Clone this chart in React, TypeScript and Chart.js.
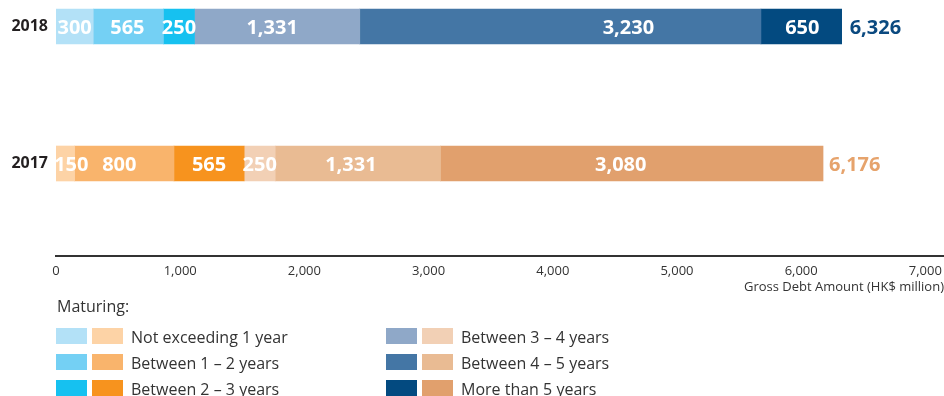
import React, { useEffect, useRef } from "react";
import { Chart, registerables } from "chart.js";

Chart.register(...registerables);

// ---------- data ----------
const YEARS = ["2018", "2017"];
const MATURITY_BUCKETS = [
  "Not exceeding 1 year",
  "Between 1 – 2 years",
  "Between 2 – 3 years",
  "Between 3 – 4 years",
  "Between 4 – 5 years",
  "More than 5 years",
];
const VALUES_2018 = [300, 565, 250, 1331, 3230, 650];
const VALUES_2017 = [150, 800, 565, 250, 1331, 3080];
const TOTALS = [6326, 6176];
const X_TICKS = [0, 1000, 2000, 3000, 4000, 5000, 6000, 7000];
const X_TITLE = "Gross Debt Amount (HK$ million)";
const LEGEND_TITLE = "Maturing:";

// ---------- styles ----------
const COLORS_2018 = ["#b3e1f7", "#74d0f4", "#16c1f0", "#8fa8c8", "#4476a5", "#034a80"];
const COLORS_2017 = ["#fdd3a6", "#f9b46c", "#f7931e", "#f2d0b5", "#e9bb93", "#e1a06d"];
const TOTAL_COLORS = ["#0b4a80", "#e6a36c"];
const FONT = '"Open Sans", "DejaVu Sans", sans-serif';
const TEXT_DARK = "#333333";

// small horizontal nudges (px) for in-bar labels, per year row then bucket
const LABEL_NUDGE = [
  [0, -1, 0, -5, 68, 1],
  [6, -5, 0, 0, -7, -11],
];

const W = 944;
const H = 396;
const CHART_BOTTOM = 256;
const ROW_PX = 137;
const FIRST_ROW_Y = 26.5;

const fmt = (v: number) => v.toLocaleString("en-US");

const labelPlugin = {
  id: "barLabels",
  afterDatasetsDraw(chart: any) {
    const ctx = chart.ctx;
    ctx.save();
    ctx.font = `700 20px ${FONT}`;
    ctx.textBaseline = "alphabetic";
    const rows = [VALUES_2018, VALUES_2017];
    chart.data.datasets.forEach((_ds: any, i: number) => {
      const meta = chart.getDatasetMeta(i);
      meta.data.forEach((el: any, j: number) => {
        const { x, y, base } = el.getProps(["x", "y", "base"], true);
        ctx.fillStyle = "#ffffff";
        ctx.textAlign = "center";
        ctx.fillText(fmt(rows[j][i]), (x + base) / 2 + LABEL_NUDGE[j][i], y + 7.5);
      });
    });
    const lastMeta = chart.getDatasetMeta(chart.data.datasets.length - 1);
    lastMeta.data.forEach((el: any, j: number) => {
      const { x, y } = el.getProps(["x", "y"], true);
      ctx.fillStyle = TOTAL_COLORS[j];
      ctx.textAlign = "left";
      ctx.fillText(fmt(TOTALS[j]), x + (j === 0 ? 8 : 6), y + 7.5);
    });
    ctx.restore();
  },
};

const legendPlugin = {
  id: "customLegend",
  afterDraw(chart: any) {
    const ctx = chart.ctx;
    ctx.save();
    ctx.font = `400 16px ${FONT}`;
    ctx.fillStyle = TEXT_DARK;
    ctx.textAlign = "left";
    ctx.textBaseline = "alphabetic";
    ctx.fillText(LEGEND_TITLE, 57, 311.5);
    const cols = [56, 386];
    const rowTop = [328, 354, 380];
    MATURITY_BUCKETS.forEach((label, i) => {
      const c = Math.floor(i / 3);
      const r = i % 3;
      const x0 = cols[c];
      const y0 = rowTop[r];
      ctx.fillStyle = COLORS_2018[i];
      ctx.fillRect(x0, y0, 31, 16);
      ctx.fillStyle = COLORS_2017[i];
      ctx.fillRect(x0 + 36, y0, 31, 16);
      ctx.fillStyle = TEXT_DARK;
      ctx.fillText(label, x0 + 75, y0 + 15);
    });
    ctx.restore();
  },
};

export default function App() {
  const ref = useRef<HTMLCanvasElement | null>(null);

  useEffect(() => {
    document.body.style.margin = "0";
    if (!ref.current) return;
    const datasets = MATURITY_BUCKETS.map((name, i) => ({
      label: name,
      data: [
        { x: VALUES_2018[i], y: 0 },
        { x: VALUES_2017[i], y: 1 },
      ],
      backgroundColor: [COLORS_2018[i], COLORS_2017[i]],
      borderWidth: 0,
      barThickness: 35,
    }));

    const chart = new Chart(ref.current, {
      type: "bar",
      data: { datasets },
      options: {
        indexAxis: "y",
        animation: false,
        responsive: true,
        maintainAspectRatio: false,
        layout: { padding: { top: 0, left: 0, right: 0, bottom: H - 300 } },
        plugins: { legend: { display: false }, tooltip: { enabled: false }, title: { display: false } },
        scales: {
          x: {
            type: "linear",
            stacked: true,
            min: 0,
            max: 7150,
            position: "bottom",
            offset: false,
            grid: { display: false, drawTicks: false },
            border: { display: true, color: TEXT_DARK, width: 2 },
            ticks: {
              stepSize: 1000,
              includeBounds: false,
              autoSkip: false,
              maxRotation: 0,
              padding: 7,
              color: TEXT_DARK,
              font: { family: FONT, size: 13 },
              callback: (v: any) => fmt(Number(v)),
            },
            afterBuildTicks: (axis: any) => {
              axis.ticks = X_TICKS.map((v) => ({ value: v }));
            },
            title: {
              display: true,
              text: X_TITLE,
              align: "end",
              color: TEXT_DARK,
              font: { family: FONT, size: 13 },
              padding: { top: 0, bottom: 5 },
            },
            afterFit: (axis: any) => {
              axis.height = 300 - CHART_BOTTOM;
              axis.paddingLeft = 0;
              axis.paddingRight = 0;
            },
          },
          y: {
            type: "linear",
            stacked: true,
            reverse: true,
            offset: false,
            min: -FIRST_ROW_Y / ROW_PX,
            max: (CHART_BOTTOM - FIRST_ROW_Y) / ROW_PX,
            grid: { display: false, drawTicks: false, offset: false },
            border: { display: false },
            afterBuildTicks: (axis: any) => {
              axis.ticks = YEARS.map((_, i) => ({ value: i }));
            },
            ticks: {
              padding: 8,
              color: "#231f20",
              font: { family: FONT, size: 16, weight: "bold" },
              callback: (_v: any, idx: number) => YEARS[idx],
            },
            afterFit: (axis: any) => {
              axis.width = 56;
              axis.paddingTop = 0;
              axis.paddingBottom = 0;
            },
          },
        },
      } as any,
      plugins: [labelPlugin, legendPlugin],
    });

    if ((document as any).fonts) {
      Promise.all([
        (document as any).fonts.load(`700 20px "Open Sans"`),
        (document as any).fonts.load(`400 16px "Open Sans"`),
      ]).then(() => chart.update()).catch(() => {});
    }

    return () => chart.destroy();
  }, []);

  return (
    <div style={{ position: "absolute", left: 0, top: 0, width: W, height: H, background: "#ffffff" }}>
      <canvas ref={ref} style={{ display: "block" }} />
    </div>
  );
}
